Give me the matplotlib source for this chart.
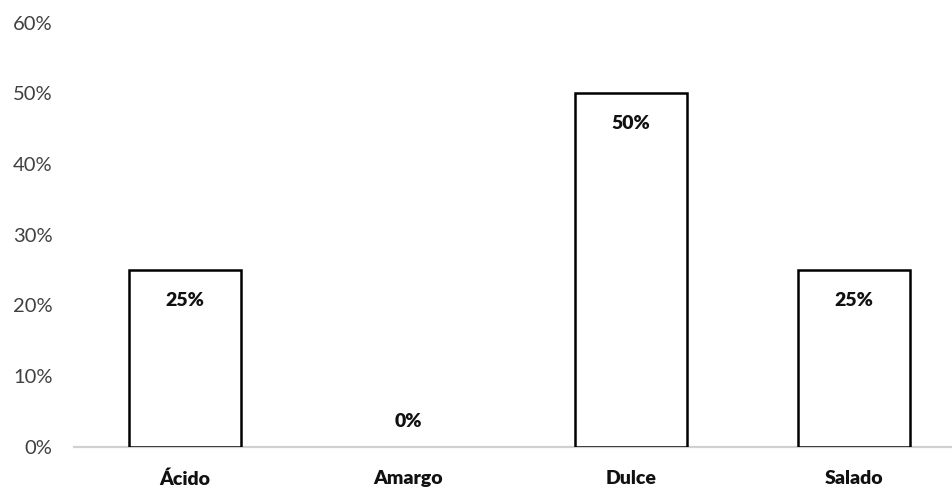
import matplotlib
matplotlib.use("Agg")
import matplotlib.pyplot as plt
from matplotlib.ticker import PercentFormatter

categories = ["Ácido", "Amargo", "Dulce", "Salado"]
values = [25, 0, 50, 25]
y_ticks = [0, 10, 20, 30, 40, 50, 60]

plt.rcParams["font.family"] = ["Lato", "DejaVu Sans"]

fig = plt.figure(figsize=(9.53, 4.88), dpi=100)
ax = fig.add_axes([73.5 / 953, 41.3 / 488, 892 / 953, 424 / 488])

x = list(range(len(categories)))
edge_colors = ["black" if v > 0 else "none" for v in values]
ax.bar(x, values, width=0.5, facecolor="white", edgecolor=edge_colors, linewidth=1.8, zorder=3)

for xi, v in zip(x, values):
    offset = -22 if v > 0 else 18
    ax.annotate(f"{v}%", (xi, v), xytext=(0, offset), textcoords="offset points",
                ha="center", va="center", fontsize=14, fontweight="heavy", color="#111111")

ax.set_xlim(-0.5, len(categories) - 0.5)
ax.set_ylim(0, 60)
ax.set_yticks(y_ticks)
ax.yaxis.set_major_formatter(PercentFormatter(decimals=0))
ax.set_xticks(x)
ax.set_xticklabels(categories, fontsize=14, fontweight="heavy", color="#111111")

ax.tick_params(axis="y", length=0, pad=15, labelsize=14.5, labelcolor="#404040")
ax.tick_params(axis="x", length=0, pad=17)

for side in ["top", "right", "left"]:
    ax.spines[side].set_visible(False)
ax.spines["bottom"].set_color("#d0d0d0")
ax.spines["bottom"].set_linewidth(1.6)

fig.savefig("out.png", dpi=100)
